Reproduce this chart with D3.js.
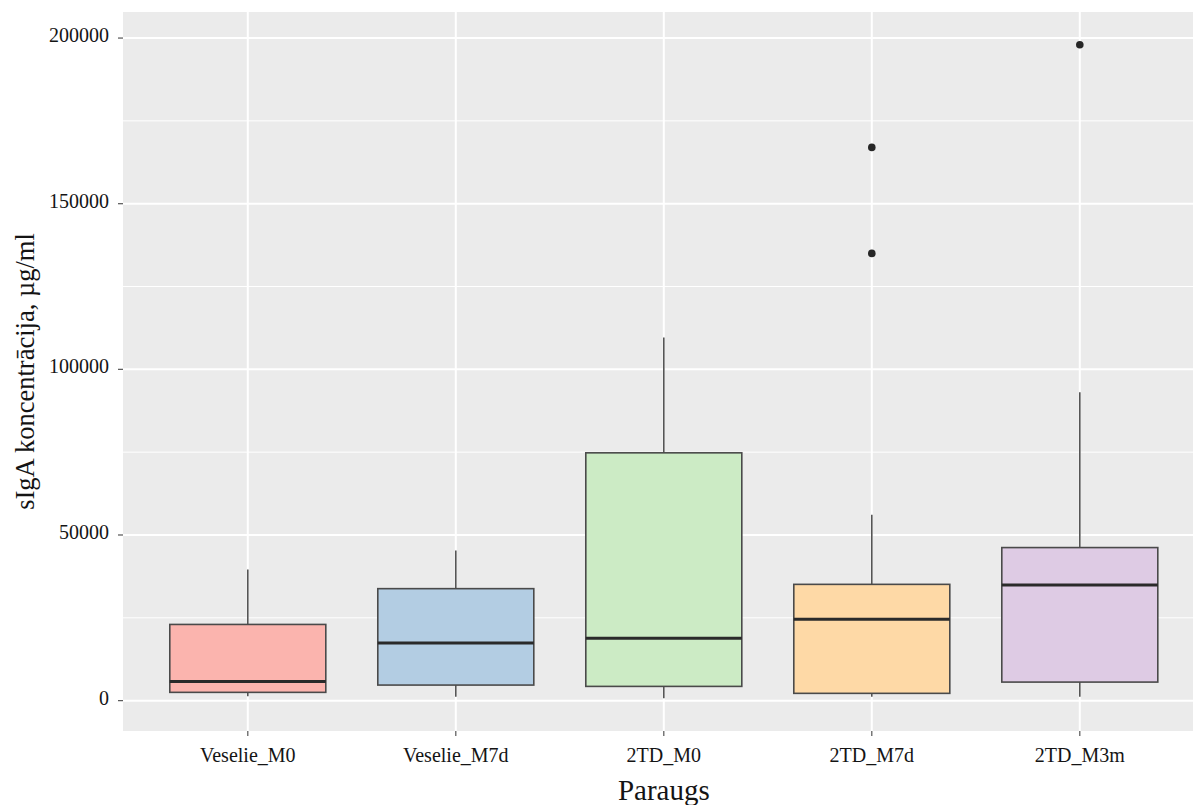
<!DOCTYPE html>
<html>
<head>
<meta charset="utf-8">
<script src="https://cdn.jsdelivr.net/npm/d3@7"></script>
<style>
  html, body { margin: 0; padding: 0; background: #ffffff; }
  svg { display: block; }
  text { font-family: "Liberation Serif", "Times New Roman", serif; fill: #141414; }
</style>
</head>
<body>
<svg id="chart" width="1193" height="805"></svg>
<script>
// Box summaries of sIgA concentration per sample group
const categories   = ["Veselie_M0", "Veselie_M7d", "2TD_M0", "2TD_M7d", "2TD_M3m"];
const whiskerLow   = [1300, 1200, 700, 1200, 1200];
const quartile1    = [2500, 4700, 4300, 2200, 5600];
const medians      = [5800, 17400, 18800, 24600, 34900];
const quartile3    = [23000, 33800, 74800, 35100, 46200];
const whiskerHigh  = [39600, 45300, 109600, 56100, 93100];
const fillColors   = ["#FBB4AE", "#B3CDE3", "#CCEBC5", "#FED9A6", "#DECBE4"];

// Points beyond the whiskers
const outlierGroup = ["2TD_M7d", "2TD_M7d", "2TD_M3m"];
const outlierValue = [167000, 135000, 198000];

const yTicks      = [0, 50000, 100000, 150000, 200000];
const yMinorTicks = [25000, 75000, 125000, 175000];

const xTitle = "Paraugs";
const yTitle = "sIgA koncentrācija, µg/ml";

const svg = d3.select("#chart");
const panel = { left: 123, top: 12, bottom: 731 };

// Discrete x positions 1..n, expanded by 0.6 on each side
const step = 208;
const x = d3.scaleLinear()
  .domain([0.4, categories.length + 0.6])
  .range([panel.left, panel.left + (categories.length + 0.2) * step]);
const xPos = name => x(categories.indexOf(name) + 1);
const boxWidth = 0.75 * step;

// Continuous y with 5% expansion of the data range
const allValues = whiskerLow.concat(whiskerHigh, outlierValue);
const lo = d3.min(allValues), hi = d3.max(allValues);
const pad = (hi - lo) * 0.05;
const y = d3.scaleLinear().domain([lo - pad, hi + pad]).range([panel.bottom, panel.top]);

const panelRight = x.range()[1];

// Panel background
svg.append("rect")
  .attr("x", panel.left).attr("y", panel.top)
  .attr("width", panelRight - panel.left).attr("height", panel.bottom - panel.top)
  .attr("fill", "#EBEBEB");

// Grid lines
const grid = svg.append("g");
grid.selectAll(".minor").data(yMinorTicks).join("line")
  .attr("x1", panel.left).attr("x2", panelRight)
  .attr("y1", d => y(d)).attr("y2", d => y(d))
  .attr("stroke", "#ffffff").attr("stroke-width", 1);
grid.selectAll(".major").data(yTicks).join("line")
  .attr("x1", panel.left).attr("x2", panelRight)
  .attr("y1", d => y(d)).attr("y2", d => y(d))
  .attr("stroke", "#ffffff").attr("stroke-width", 2);
grid.selectAll(".vmajor").data(categories).join("line")
  .attr("x1", d => xPos(d)).attr("x2", d => xPos(d))
  .attr("y1", panel.top).attr("y2", panel.bottom)
  .attr("stroke", "#ffffff").attr("stroke-width", 2);

// Boxes
const rows = categories.map((c, i) => ({
  name: c, low: whiskerLow[i], q1: quartile1[i], med: medians[i],
  q3: quartile3[i], high: whiskerHigh[i], fill: fillColors[i]
}));

const boxes = svg.append("g").selectAll("g").data(rows).join("g");
boxes.append("line")
  .attr("x1", d => xPos(d.name)).attr("x2", d => xPos(d.name))
  .attr("y1", d => y(d.q3)).attr("y2", d => y(d.high))
  .attr("stroke", "#555555").attr("stroke-width", 1.6);
boxes.append("line")
  .attr("x1", d => xPos(d.name)).attr("x2", d => xPos(d.name))
  .attr("y1", d => y(d.q1)).attr("y2", d => y(d.low))
  .attr("stroke", "#555555").attr("stroke-width", 1.6);
boxes.append("rect")
  .attr("x", d => xPos(d.name) - boxWidth / 2)
  .attr("width", boxWidth)
  .attr("y", d => y(d.q3))
  .attr("height", d => y(d.q1) - y(d.q3))
  .attr("fill", d => d.fill)
  .attr("stroke", "#4a4a4a").attr("stroke-width", 1.6);
boxes.append("line")
  .attr("x1", d => xPos(d.name) - boxWidth / 2).attr("x2", d => xPos(d.name) + boxWidth / 2)
  .attr("y1", d => y(d.med)).attr("y2", d => y(d.med))
  .attr("stroke", "#2a2a2a").attr("stroke-width", 3);

// Outliers
svg.append("g").selectAll("circle").data(outlierValue).join("circle")
  .attr("cx", (d, i) => xPos(outlierGroup[i]))
  .attr("cy", d => y(d))
  .attr("r", 3.8)
  .attr("fill", "#262626");

// Y axis ticks and labels
const yAxis = svg.append("g");
yAxis.selectAll("line").data(yTicks).join("line")
  .attr("x1", panel.left - 5).attr("x2", panel.left)
  .attr("y1", d => y(d)).attr("y2", d => y(d))
  .attr("stroke", "#555555").attr("stroke-width", 1.2);
yAxis.selectAll("text").data(yTicks).join("text")
  .attr("x", 109)
  .attr("y", d => y(d) + 4)
  .attr("text-anchor", "end")
  .style("font-size", "20px")
  .text(d => d3.format("d")(d));

// X axis ticks and labels
const xAxis = svg.append("g");
xAxis.selectAll("line").data(categories).join("line")
  .attr("x1", d => xPos(d)).attr("x2", d => xPos(d))
  .attr("y1", panel.bottom).attr("y2", panel.bottom + 5)
  .attr("stroke", "#555555").attr("stroke-width", 1.2);
xAxis.selectAll("text").data(categories).join("text")
  .attr("x", d => xPos(d))
  .attr("y", 762)
  .attr("text-anchor", "middle")
  .style("font-size", "20px")
  .text(d => d);

// Axis titles
svg.append("text")
  .attr("x", (panel.left + panelRight) / 2)
  .attr("y", 800)
  .attr("text-anchor", "middle")
  .style("font-size", "29px")
  .text(xTitle);

svg.append("text")
  .attr("transform", `translate(34, ${(panel.top + panel.bottom) / 2}) rotate(-90)`)
  .attr("text-anchor", "middle")
  .style("font-size", "26.5px")
  .text(yTitle);
</script>
</body>
</html>
